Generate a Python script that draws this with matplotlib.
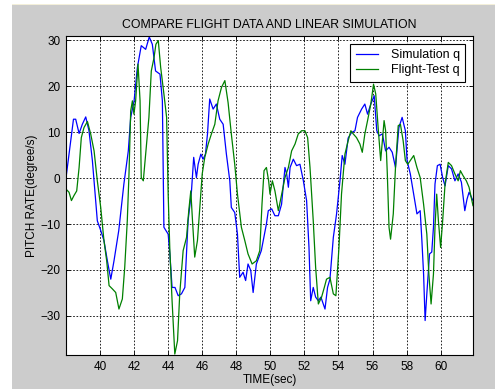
import matplotlib.pyplot as plt
from matplotlib.patches import Rectangle

# Simulation q (blue)
sim_t = [38.0, 38.44, 38.57, 38.77, 38.96, 39.16, 39.35, 39.55, 39.84, 40.04, 40.23, 40.43,
         40.63, 40.82, 41.1, 41.4, 41.66, 41.8, 42.0, 42.19, 42.42, 42.68, 42.89, 43.07,
         43.26, 43.52, 43.66, 43.75, 44.0, 44.1, 44.23, 44.4, 44.59, 44.78, 44.98, 45.17,
         45.37, 45.5, 45.66, 45.76, 45.92, 46.05, 46.19, 46.31, 46.44, 46.64, 46.83, 47.03,
         47.23, 47.42, 47.62, 47.71, 47.91, 48.07, 48.2, 48.4, 48.55, 48.69, 48.85, 48.99,
         49.18, 49.47, 49.77, 49.88, 50.08, 50.27, 50.47, 50.66, 50.86, 50.96, 51.06, 51.16,
         51.35, 51.54, 51.74, 51.94, 52.13, 52.27, 52.37, 52.52, 52.66, 52.82, 52.97, 53.11,
         53.21, 53.36, 53.5, 53.7, 53.89, 54.09, 54.22, 54.38, 54.57, 54.77, 54.97, 55.12,
         55.36, 55.55, 55.71, 55.9, 56.1, 56.25, 56.39, 56.58, 56.77, 56.97, 57.16, 57.35,
         57.55, 57.74, 57.93, 58.03, 58.22, 58.42, 58.61, 58.8, 58.9, 59.0, 59.09, 59.19,
         59.35, 59.48, 59.58, 59.67, 59.81, 59.97, 60.12, 60.26, 60.45, 60.64, 60.84, 61.03,
         61.22, 61.42, 61.55, 61.67, 61.9]
sim_q = [0.0, 12.8, 12.8, 9.7, 11.7, 13.3, 10.3, 3.8, -9.3, -11.4, -13.6, -18.0,
         -22.0, -18.0, -11.4, -1.3, 5.9, 13.2, 16.8, 24.0, 28.8, 28.0, 30.7, 29.1,
         23.3, 22.6, 16.8, -10.7, -12.2, -16.5, -23.8, -23.8, -25.6, -25.2, -23.8, -9.3,
         -2.8, 4.5, 0.1, 3.0, 5.2, 4.1, 5.2, 9.6, 17.2, 15.0, 16.1, 12.8,
         11.7, 5.2, -0.6, -6.4, -7.5, -12.2, -21.6, -20.5, -22.3, -18.7, -20.1, -24.9,
         -18.7, -15.8, -10.0, -7.1, -6.7, -8.2, -8.2, -5.7, 2.3, 0.9, -2.0, 2.3,
         4.1, 2.7, 3.0, -0.6, -4.9, -15.1, -26.7, -23.8, -25.9, -26.7, -25.9, -27.4,
         -28.5, -23.8, -22.0, -12.9, -7.8, -0.6, 4.9, 3.0, 8.7, 9.9, 10.3, 13.2,
         15.0, 16.1, 13.9, 16.1, 17.9, 10.3, 9.2, 9.6, 5.9, 6.7, 5.6, 2.3,
         11.0, 13.2, 10.3, 3.8, 0.9, -3.5, -7.8, -7.1, -13.6, -20.9, -31.0, -25.2,
         -16.5, -16.1, -10.7, -1.3, 2.7, 3.0, 0.1, -1.7, 2.7, 2.0, -0.6, 0.9,
         -0.9, -7.1, -4.6, -3.1, -4.9]

# Flight-Test q (green)
flt_t = [38.0, 38.18, 38.32, 38.47, 38.63, 38.77, 38.9, 39.06, 39.26, 39.45, 39.65, 39.84,
         40.04, 40.23, 40.39, 40.53, 40.72, 40.92, 41.11, 41.31, 41.45, 41.6, 41.7, 41.8,
         41.9, 41.99, 42.09, 42.23, 42.35, 42.42, 42.54, 42.68, 42.87, 43.01, 43.17, 43.28,
         43.42, 43.56, 43.75, 43.91, 44.0, 44.1, 44.23, 44.39, 44.55, 44.68, 44.88, 45.08,
         45.21, 45.33, 45.43, 45.56, 45.72, 45.86, 46.0, 46.15, 46.35, 46.54, 46.74, 46.93,
         47.13, 47.33, 47.52, 47.71, 47.91, 48.07, 48.3, 48.5, 48.69, 48.93, 49.18, 49.38,
         49.51, 49.63, 49.77, 49.9, 49.98, 50.12, 50.27, 50.47, 50.63, 50.86, 51.06, 51.25,
         51.45, 51.64, 51.84, 52.03, 52.19, 52.33, 52.52, 52.66, 52.82, 53.01, 53.17, 53.3,
         53.5, 53.7, 53.85, 54.03, 54.18, 54.38, 54.57, 54.73, 54.87, 55.06, 55.26, 55.4,
         55.55, 55.71, 55.9, 56.06, 56.19, 56.33, 56.48, 56.58, 56.68, 56.77, 56.87, 56.97,
         57.06, 57.22, 57.35, 57.51, 57.64, 57.8, 57.93, 58.07, 58.22, 58.42, 58.61, 58.8,
         59.0, 59.19, 59.31, 59.44, 59.58, 59.67, 59.77, 59.87, 60.0, 60.12, 60.26, 60.45,
         60.64, 60.84, 61.03, 61.16, 61.32, 61.51, 61.67, 61.9]
flt_q = [-2.4, -3.1, -4.9, -3.8, -2.8, 2.3, 8.8, 11.0, 12.3, 9.6, 5.9, -0.6,
         -6.4, -13.6, -18.0, -23.4, -24.1, -24.9, -28.5, -26.3, -19.4, -9.3, 0.9, 14.6,
         16.8, 13.9, 16.8, 24.8, 16.8, 0.1, -0.6, 5.2, 13.2, 23.3, 26.2, 29.1,
         29.9, 24.1, 18.3, 13.2, -3.5, -15.8, -26.7, -38.3, -35.4, -25.2, -15.8, -12.9,
         -7.1, -2.8, -9.3, -17.2, -13.6, -6.4, 0.9, 4.5, 7.4, 9.6, 11.7, 16.8,
         19.7, 21.2, 16.4, 9.6, 3.0, -3.5, -10.7, -13.6, -16.5, -18.7, -18.0, -15.8,
         -5.7, 1.6, 2.3, -0.6, -3.5, -0.6, -2.8, -7.1, -4.2, 0.1, 2.3, 5.9,
         7.4, 9.6, 10.3, 10.3, 8.8, 2.3, -9.3, -19.4, -27.4, -25.9, -23.8, -22.0,
         -21.6, -25.2, -25.6, -15.1, -3.5, 5.2, 8.1, 10.3, 9.6, 8.8, 7.4, 5.6,
         9.6, 12.5, 16.1, 20.4, 18.3, 11.0, 3.8, 8.1, 12.5, 10.3, 0.9, -10.7,
         -13.3, -7.8, 2.3, 11.4, 11.7, 8.1, 3.8, 3.0, 3.8, 4.9, 2.3, 0.1,
         -5.7, -12.2, -20.9, -27.4, -20.9, -10.7, -3.5, -9.3, -15.1, -9.3, -1.3, 3.4,
         2.7, 0.9, -0.6, 1.6, 0.5, -0.6, -2.0, -6.0]

xticks = [40, 42, 44, 46, 48, 50, 52, 54, 56, 58, 60]
yticks = [-30, -20, -10, 0, 10, 20, 30]

plt.rcParams['font.family'] = 'Liberation Sans'
plt.rcParams['font.size'] = 8

fig = plt.figure(figsize=(4.95, 3.89), dpi=100, facecolor='white')
# gray MATLAB figure panel with white margin left/top and a beige frame line
fig.patches.append(Rectangle((12 / 495, 0), 1, (389 - 5) / 389, transform=fig.transFigure,
                             facecolor='#cccccc', edgecolor='none', zorder=-2))
fig.patches.append(Rectangle((12 / 495, (389 - 5) / 389), 1, 1.2 / 389, transform=fig.transFigure,
                             facecolor='#f3efd9', edgecolor='none', zorder=-1))

ax = fig.add_axes([0.1333, 0.0874, 0.8222, 0.820])
ax.plot(sim_t, sim_q, color='#0000ff', linewidth=0.9, label='Simulation q')
ax.plot(flt_t, flt_q, color='#008000', linewidth=0.9, label='Flight-Test q')

ax.set_xlim(38.0, 61.9)
ax.set_ylim(-38.5, 30.9)
ax.set_xticks(xticks)
ax.set_yticks(yticks)
ax.tick_params(direction='in', length=3, width=0.6, top=True, right=True, pad=4,
               labelsize=8.5, colors='black')
ax.grid(True, color='black', linestyle=(0, (2, 2)), linewidth=0.6)
for s in ax.spines.values():
    s.set_linewidth(0.8)

ax.set_title('COMPARE FLIGHT DATA AND LINEAR SIMULATION', fontsize=8.8, pad=6)
ax.set_xlabel('TIME(sec)', fontsize=8.5, labelpad=1)
ax.set_ylabel('PITCH RATE(degree/s)', fontsize=8.5, labelpad=2)

leg = ax.legend(loc='upper right', fontsize=9, fancybox=False, framealpha=1,
                edgecolor='black', handlelength=1.8, handletextpad=1.0,
                borderpad=0.45, labelspacing=0.25, borderaxespad=0.6)
leg.get_frame().set_linewidth(0.8)

plt.savefig('out.png', dpi=100, facecolor=fig.get_facecolor())
